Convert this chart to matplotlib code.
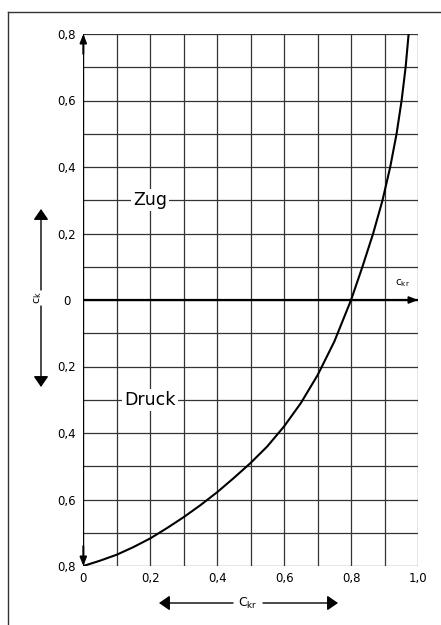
import matplotlib
matplotlib.use("Agg")
import matplotlib.pyplot as plt
from matplotlib.lines import Line2D

# ---- data ----
c_kr = [0.0, 0.05, 0.1, 0.15, 0.2, 0.25, 0.3, 0.35, 0.4, 0.45, 0.5, 0.55, 0.6,
        0.65, 0.7, 0.75, 0.8, 0.834, 0.866, 0.894, 0.917, 0.936, 0.951, 0.963,
        0.972]
c_k = [-0.8, -0.784, -0.766, -0.743, -0.717, -0.686, -0.653, -0.617, -0.578,
       -0.535, -0.49, -0.44, -0.38, -0.31, -0.226, -0.125, 0.0, 0.1, 0.2, 0.3,
       0.4, 0.5, 0.6, 0.7, 0.8]

x_ticks = [0.0, 0.2, 0.4, 0.6, 0.8, 1.0]
x_tick_labels = ["0", "0,2", "0,4", "0,6", "0,8", "1,0"]
y_ticks = [0.8, 0.6, 0.4, 0.2, 0.0, -0.2, -0.4, -0.6, -0.8]
y_tick_labels = ["0,8", "0,6", "0,4", "0,2", "0", "0,2", "0,4", "0,6", "0,8"]
grid_x = [i / 10 for i in range(0, 11)]
grid_y = [i / 10 for i in range(-8, 9)]

W, H = 441, 625
fig = plt.figure(figsize=(W / 100, H / 100), dpi=100)
fig.patch.set_facecolor("white")

ax = fig.add_axes([83.3 / W, 1 - 566 / H, (418 - 83.3) / W, (566 - 34) / H])
ax.set_xlim(0, 1.0)
ax.set_ylim(-0.8, 0.8)
for s in ax.spines.values():
    s.set_visible(False)

gcol = "#333333"
for gx in grid_x:
    ax.axvline(gx, color=gcol, lw=0.9, zorder=1)
for gy in grid_y:
    ax.axhline(gy, color=gcol, lw=0.9, zorder=1)

# main axes (thicker)
ax.axhline(0, color="black", lw=1.6, zorder=2)
ax.axvline(0, color="black", lw=1.6, zorder=2)

# curve
ax.plot(c_kr, c_k, color="black", lw=1.5, zorder=4,
        solid_capstyle="round", solid_joinstyle="round")

ax.set_xticks(x_ticks)
ax.set_xticklabels(x_tick_labels)
ax.set_yticks(y_ticks)
ax.set_yticklabels(y_tick_labels)
ax.tick_params(axis="both", length=0, labelsize=8.5, colors="black")
ax.tick_params(axis="x", pad=4)
ax.tick_params(axis="y", pad=12)
for lbl in ax.get_yticklabels():
    lbl.set_horizontalalignment("center")

# labels inside
ax.text(0.2, 0.3, "Zug", ha="center", va="center", fontsize=12.5, zorder=5,
        bbox=dict(facecolor="white", edgecolor="none", pad=1.5))
ax.text(0.2, -0.3, "Druck", ha="center", va="center", fontsize=12.5, zorder=5,
        bbox=dict(facecolor="white", edgecolor="none", pad=1.5))

# arrows on axes
ap_small = dict(arrowstyle="-|>,head_length=0.5,head_width=0.2", color="black",
                lw=1.4, mutation_scale=10, shrinkA=0, shrinkB=0)
ax.annotate("", xy=(0, 0.8), xytext=(0, 0.74), arrowprops=ap_small, zorder=6)
ax.annotate("", xy=(0, -0.8), xytext=(0, -0.74), arrowprops=ap_small, zorder=6)
ax.annotate("", xy=(1.0, 0), xytext=(0.94, 0), arrowprops=ap_small, zorder=6)
ax.text(0.955, 0.05, r"c$_{\mathregular{kr}}$", ha="center", va="center", fontsize=7.5)

# outer arrows (figure pixel coordinates)
ap = dict(arrowstyle="-|>,head_length=0.65,head_width=0.45", color="black",
          lw=1.0, mutation_scale=10, shrinkA=0, shrinkB=0)
fig_ann = dict(xycoords="figure pixels", textcoords="figure pixels", arrowprops=ap)
ax.annotate("", xy=(41, H - 209), xytext=(41, H - 290), **fig_ann)
ax.annotate("", xy=(41, H - 387), xytext=(41, H - 306), **fig_ann)
fig.text(38 / W, 1 - 298 / H, r"c$_{\mathregular{k}}$", rotation=90,
         ha="center", va="center", fontsize=8)

ax.annotate("", xy=(159, H - 603), xytext=(233, H - 603), **fig_ann)
ax.annotate("", xy=(338, H - 603), xytext=(263, H - 603), **fig_ann)
fig.text(248 / W, 1 - 603 / H, r"C$_{\mathregular{kr}}$", ha="center",
         va="center", fontsize=9)

# page frame
fig.add_artist(Line2D([8 / W, 8 / W], [0, 1 - 12 / H], transform=fig.transFigure,
                      color="#333333", lw=1.0))
fig.add_artist(Line2D([8 / W, 1], [1 - 12 / H, 1 - 12 / H], transform=fig.transFigure,
                      color="#333333", lw=1.0))

fig.savefig("out.png", dpi=100, facecolor="white")
